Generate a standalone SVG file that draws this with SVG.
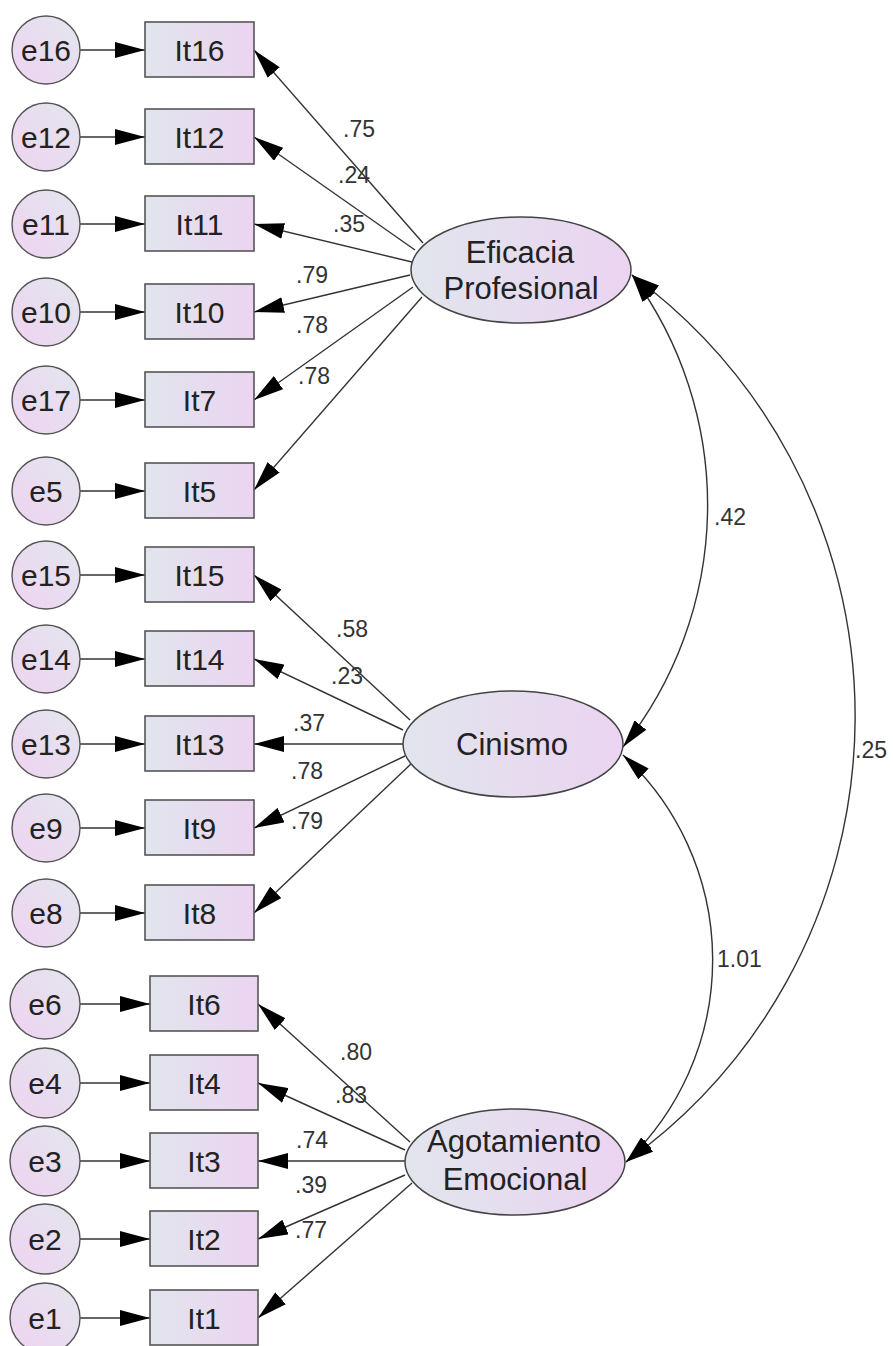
<svg xmlns="http://www.w3.org/2000/svg" width="893" height="1346" viewBox="0 0 893 1346">
<defs>
<linearGradient id="gBox" x1="0" y1="0" x2="1" y2="0">
<stop offset="0" stop-color="#e1e5ed"/>
<stop offset="1" stop-color="#ebd4f1"/>
</linearGradient>
<linearGradient id="gCirc" x1="1" y1="0" x2="0" y2="1">
<stop offset="0" stop-color="#e3e6ee"/>
<stop offset="1" stop-color="#efd3f1"/>
</linearGradient>
<marker id="ah" markerUnits="userSpaceOnUse" viewBox="0 0 30 16" markerWidth="30" markerHeight="16" refX="30" refY="8" orient="auto">
<path d="M0,0 L30,8 L0,16 Z" fill="#000"/>
</marker>
<marker id="ah2" markerUnits="userSpaceOnUse" viewBox="0 0 28 15" markerWidth="28" markerHeight="15" refX="28" refY="7.5" orient="auto-start-reverse">
<path d="M0,0 L28,7.5 L0,15 Z" fill="#000"/>
</marker>
</defs>
<style>
.c{fill:url(#gCirc);stroke:#555;stroke-width:1.4}
.b{fill:url(#gBox);stroke:#555;stroke-width:1.6}
.el{fill:url(#gBox);stroke:#444;stroke-width:1.5}
.t{font-family:"Liberation Sans",Arial,sans-serif;font-size:30px;fill:#222;text-anchor:middle}
.te{font-family:"Liberation Sans",Arial,sans-serif;font-size:31px;fill:#222;text-anchor:middle}
.l{font-family:"Liberation Sans",Arial,sans-serif;font-size:23px;fill:#333}
.ln{stroke:#333;stroke-width:1.4;fill:none;marker-end:url(#ah)}
.cv{stroke:#333;stroke-width:1.4;fill:none;marker-start:url(#ah2);marker-end:url(#ah2)}
</style>

<g id="connectors">
<!-- error to item -->
<line class="ln" x1="80" y1="50" x2="145" y2="50"/>
<line class="ln" x1="80" y1="137" x2="145" y2="137"/>
<line class="ln" x1="80" y1="224" x2="145" y2="224"/>
<line class="ln" x1="80" y1="312" x2="145" y2="312"/>
<line class="ln" x1="80" y1="400" x2="145" y2="400"/>
<line class="ln" x1="80" y1="491" x2="145" y2="491"/>
<line class="ln" x1="80" y1="575" x2="145" y2="575"/>
<line class="ln" x1="80" y1="659" x2="145" y2="659"/>
<line class="ln" x1="80" y1="744" x2="145" y2="744"/>
<line class="ln" x1="80" y1="828" x2="145" y2="828"/>
<line class="ln" x1="80" y1="913" x2="145" y2="913"/>
<line class="ln" x1="80" y1="1004" x2="150" y2="1004"/>
<line class="ln" x1="80" y1="1083" x2="150" y2="1083"/>
<line class="ln" x1="80" y1="1161" x2="150" y2="1161"/>
<line class="ln" x1="80" y1="1239" x2="150" y2="1239"/>
<line class="ln" x1="80" y1="1318" x2="150" y2="1318"/>
<!-- Eficacia Profesional loadings -->
<line class="ln" x1="423" y1="243" x2="254" y2="50"/>
<line class="ln" x1="415" y1="250" x2="254" y2="137"/>
<line class="ln" x1="412" y1="262" x2="254" y2="224"/>
<line class="ln" x1="410" y1="275" x2="254" y2="312"/>
<line class="ln" x1="413" y1="287" x2="254" y2="400"/>
<line class="ln" x1="422" y1="297" x2="254" y2="490"/>
<!-- Cinismo loadings -->
<line class="ln" x1="410" y1="720" x2="254" y2="575"/>
<line class="ln" x1="403" y1="730" x2="254" y2="659"/>
<line class="ln" x1="403" y1="744" x2="254" y2="744"/>
<line class="ln" x1="405" y1="756" x2="254" y2="828"/>
<line class="ln" x1="412" y1="763" x2="254" y2="913"/>
<!-- Agotamiento Emocional loadings -->
<line class="ln" x1="410" y1="1142" x2="258" y2="1004"/>
<line class="ln" x1="405" y1="1150" x2="258" y2="1083"/>
<line class="ln" x1="405" y1="1161" x2="258" y2="1161"/>
<line class="ln" x1="405" y1="1175" x2="258" y2="1239"/>
<line class="ln" x1="412" y1="1183" x2="258" y2="1318"/>
<!-- covariances -->
<path class="cv" d="M632,275 A388,388 0 0 1 623,747"/>
<path class="cv" d="M623,755 A279,279 0 0 1 626,1162"/>
<path class="cv" d="M632,275 A548,548 0 0 1 626,1162"/>
<!-- labels -->
<text class="l" x="343" y="137">.75</text>
<text class="l" x="338" y="183">.24</text>
<text class="l" x="333" y="232">.35</text>
<text class="l" x="296" y="283">.79</text>
<text class="l" x="296" y="333">.78</text>
<text class="l" x="298" y="384">.78</text>
<text class="l" x="336" y="637">.58</text>
<text class="l" x="331" y="684">.23</text>
<text class="l" x="293" y="731">.37</text>
<text class="l" x="291" y="779">.78</text>
<text class="l" x="291" y="829">.79</text>
<text class="l" x="340" y="1060">.80</text>
<text class="l" x="335" y="1103">.83</text>
<text class="l" x="296" y="1148">.74</text>
<text class="l" x="295" y="1193">.39</text>
<text class="l" x="295" y="1238">.77</text>
<text class="l" x="714" y="525">.42</text>
<text class="l" x="717" y="967">1.01</text>
<text class="l" x="855" y="758">.25</text>
</g>

<g id="e16"><circle class="c" cx="46" cy="50" r="34"/><text class="t" x="46" y="61">e16</text></g>
<g id="e12"><circle class="c" cx="46" cy="137" r="34"/><text class="t" x="46" y="148">e12</text></g>
<g id="e11"><circle class="c" cx="46" cy="224" r="34"/><text class="t" x="46" y="235">e11</text></g>
<g id="e10"><circle class="c" cx="46" cy="312" r="34"/><text class="t" x="46" y="323">e10</text></g>
<g id="e17"><circle class="c" cx="46" cy="400" r="34"/><text class="t" x="46" y="411">e17</text></g>
<g id="e5"><circle class="c" cx="46" cy="491" r="34"/><text class="t" x="46" y="502">e5</text></g>
<g id="e15"><circle class="c" cx="46" cy="575" r="34"/><text class="t" x="46" y="586">e15</text></g>
<g id="e14"><circle class="c" cx="46" cy="659" r="34"/><text class="t" x="46" y="670">e14</text></g>
<g id="e13"><circle class="c" cx="46" cy="744" r="34"/><text class="t" x="46" y="755">e13</text></g>
<g id="e9"><circle class="c" cx="46" cy="828" r="34"/><text class="t" x="46" y="839">e9</text></g>
<g id="e8"><circle class="c" cx="46" cy="913" r="34"/><text class="t" x="46" y="924">e8</text></g>
<g id="e6"><circle class="c" cx="45" cy="1004" r="35"/><text class="t" x="45" y="1015">e6</text></g>
<g id="e4"><circle class="c" cx="45" cy="1083" r="35"/><text class="t" x="45" y="1094">e4</text></g>
<g id="e3"><circle class="c" cx="45" cy="1161" r="35"/><text class="t" x="45" y="1172">e3</text></g>
<g id="e2"><circle class="c" cx="45" cy="1239" r="35"/><text class="t" x="45" y="1250">e2</text></g>
<g id="e1"><circle class="c" cx="45" cy="1318" r="35"/><text class="t" x="45" y="1329">e1</text></g>

<g id="It16"><rect class="b" x="145" y="22" width="109" height="55"/><text class="t" x="199.5" y="61">It16</text></g>
<g id="It12"><rect class="b" x="145" y="109" width="109" height="55"/><text class="t" x="199.5" y="148">It12</text></g>
<g id="It11"><rect class="b" x="145" y="196" width="109" height="55"/><text class="t" x="199.5" y="235">It11</text></g>
<g id="It10"><rect class="b" x="145" y="284" width="109" height="55"/><text class="t" x="199.5" y="323">It10</text></g>
<g id="It7"><rect class="b" x="145" y="372" width="109" height="55"/><text class="t" x="199.5" y="411">It7</text></g>
<g id="It5"><rect class="b" x="145" y="463" width="109" height="55"/><text class="t" x="199.5" y="502">It5</text></g>
<g id="It15"><rect class="b" x="145" y="547" width="109" height="55"/><text class="t" x="199.5" y="586">It15</text></g>
<g id="It14"><rect class="b" x="145" y="631" width="109" height="55"/><text class="t" x="199.5" y="670">It14</text></g>
<g id="It13"><rect class="b" x="145" y="716" width="109" height="55"/><text class="t" x="199.5" y="755">It13</text></g>
<g id="It9"><rect class="b" x="145" y="800" width="109" height="55"/><text class="t" x="199.5" y="839">It9</text></g>
<g id="It8"><rect class="b" x="145" y="885" width="109" height="55"/><text class="t" x="199.5" y="924">It8</text></g>
<g id="It6"><rect class="b" x="150" y="976" width="108" height="55"/><text class="t" x="204" y="1015">It6</text></g>
<g id="It4"><rect class="b" x="150" y="1055" width="108" height="55"/><text class="t" x="204" y="1094">It4</text></g>
<g id="It3"><rect class="b" x="150" y="1133" width="108" height="55"/><text class="t" x="204" y="1172">It3</text></g>
<g id="It2"><rect class="b" x="150" y="1211" width="108" height="55"/><text class="t" x="204" y="1250">It2</text></g>
<g id="It1"><rect class="b" x="150" y="1290" width="108" height="55"/><text class="t" x="204" y="1329">It1</text></g>

<g id="EficaciaProfesional"><ellipse class="el" cx="521" cy="270" rx="110" ry="53"/><text class="te" x="520" y="263">Eficacia</text><text class="te" x="521" y="299">Profesional</text></g>
<g id="Cinismo"><ellipse class="el" cx="513" cy="744" rx="110" ry="53"/><text class="te" x="512" y="755">Cinismo</text></g>
<g id="AgotamientoEmocional"><ellipse class="el" cx="515" cy="1162" rx="110" ry="53"/><text class="te" x="514" y="1152">Agotamiento</text><text class="te" x="515" y="1190">Emocional</text></g>
</svg>
